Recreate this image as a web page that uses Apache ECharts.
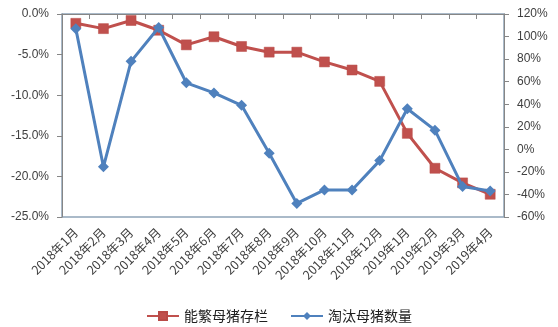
<!DOCTYPE html>
<html>
<head>
<meta charset="utf-8">
<script src="https://cdn.jsdelivr.net/npm/echarts@6/dist/echarts.min.js"></script>
<style>
  html, body { margin: 0; padding: 0; background: #ffffff; }
  #chart { width: 558px; height: 327px; }
</style>
</head>
<body>
<div id="chart"></div>
<script>
// Monthly categories
const months = ['2018年1月', '2018年2月', '2018年3月', '2018年4月', '2018年5月', '2018年6月',
  '2018年7月', '2018年8月', '2018年9月', '2018年10月', '2018年11月', '2018年12月',
  '2019年1月', '2019年2月', '2019年3月', '2019年4月'];

// 能繁母猪存栏 (left axis, %)
const sowStock = [-1.15, -1.8, -0.8, -2.0, -3.8, -2.8, -4.0, -4.7, -4.7, -5.9, -6.9, -8.3, -14.7, -19.0, -20.8, -22.2];

// 淘汰母猪数量 (right axis, %)
const sowCull = [107, -15.5, 78, 108, 59, 50, 39, -3.5, -48, -36, -36, -10, 36, 17, -33, -37];

// Axis ranges
const leftRange = { min: -25, max: 0, interval: 5 };
const rightRange = { min: -60, max: 120, interval: 20 };

const seriesNames = ['能繁母猪存栏', '淘汰母猪数量'];

const labelFont = 'Liberation Sans, "Noto Sans CJK SC", sans-serif';
const textColor = '#404040';
const axisGrey = '#868686';

const chart = echarts.init(document.getElementById('chart'), null, { renderer: 'canvas' });

chart.setOption({
  animation: false,
  backgroundColor: '#ffffff',
  grid: {
    left: 62, right: 54, top: 14, bottom: 110,
    containLabel: false,
    outerBoundsMode: 'none',
    show: true,
    borderColor: '#8fa4b8',
    borderWidth: 1.5,
    backgroundColor: 'transparent'
  },
  legend: {
    data: seriesNames,
    left: 'center',
    top: 304,
    itemWidth: 32,
    itemHeight: 10,
    itemGap: 22,
    textStyle: { fontFamily: '"Noto Sans CJK SC", sans-serif', fontSize: 14, color: '#202020' }
  },
  xAxis: {
    type: 'category',
    data: months,
    boundaryGap: true,
    axisLine: { lineStyle: { color: axisGrey, width: 1 } },
    axisTick: { show: true, length: 5, alignWithLabel: false, lineStyle: { color: axisGrey } },
    axisLabel: {
      rotate: 45,
      interval: 0,
      margin: 13,
      fontFamily: '"Noto Sans CJK SC", sans-serif',
      fontSize: 12.5,
      color: textColor
    },
    splitLine: { show: false }
  },
  yAxis: [
    {
      type: 'value',
      position: 'left',
      min: leftRange.min, max: leftRange.max, interval: leftRange.interval,
      axisLine: { show: true, lineStyle: { color: axisGrey } },
      axisTick: { show: true, length: 5, lineStyle: { color: axisGrey } },
      axisLabel: {
        margin: 13,
        fontFamily: labelFont,
        fontSize: 12,
        color: textColor,
        formatter: v => v.toFixed(1) + '%'
      },
      splitLine: { show: false }
    },
    {
      type: 'value',
      position: 'right',
      min: rightRange.min, max: rightRange.max, interval: rightRange.interval,
      axisLine: { show: true, lineStyle: { color: axisGrey } },
      axisTick: { show: true, length: 5, lineStyle: { color: axisGrey } },
      axisLabel: {
        margin: 13,
        fontFamily: labelFont,
        fontSize: 12,
        color: textColor,
        formatter: v => v + '%'
      },
      splitLine: { show: false }
    }
  ],
  series: [
    {
      name: seriesNames[0],
      type: 'line',
      yAxisIndex: 0,
      data: sowStock,
      symbol: 'rect',
      symbolSize: 10,
      lineStyle: { color: '#c0504d', width: 3 },
      itemStyle: { color: '#c0504d', borderColor: '#b94a47', borderWidth: 0.5 },
      z: 2
    },
    {
      name: seriesNames[1],
      type: 'line',
      yAxisIndex: 1,
      data: sowCull,
      symbol: 'diamond',
      symbolSize: 11,
      lineStyle: { color: '#4f81bd', width: 3 },
      itemStyle: { color: '#4f81bd' },
      z: 3
    }
  ]
});
</script>
</body>
</html>
